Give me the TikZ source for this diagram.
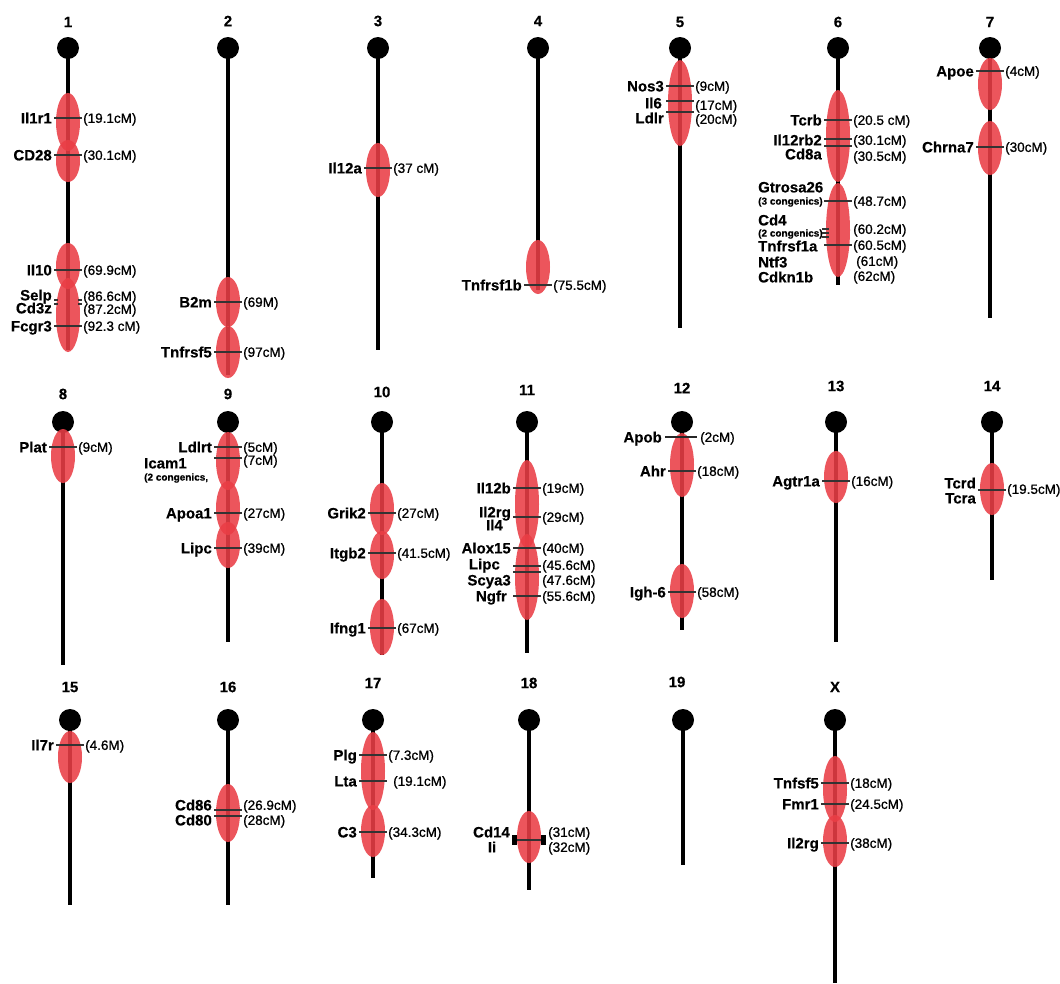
\documentclass[tikz,border=0pt]{standalone}
\usepackage{fontspec}
\setmainfont{Liberation Sans}
\newfontfamily\genfam{Liberation Sans}[UprightFont={* Bold},FakeBold=0.4]
\newfontfamily\numfam{Liberation Sans}[FakeBold=0.9]
\definecolor{chrred}{RGB}{234,62,70}
\newcount\nid
\newcommand\gfnt{\genfam\fontsize{15}{15}\selectfont}
\newcommand\nfnt{\numfam\fontsize{13.5}{13.5}\selectfont}
\newcommand\sfnt{\genfam\fontsize{10}{10}\selectfont}
\newcommand\lfnt{\genfam\fontsize{15}{15}\selectfont}
\tikzset{
  chrline/.style={line width=4.5pt,draw=black},
  ell/.style={fill=chrred,fill opacity=0.88},
  tick/.style={line width=1.3pt,draw=black!80},
  thicktick/.style={line width=2.6pt,draw=black!85},
  gene/.style={font=\gfnt,inner sep=0pt,text height=10.8pt,text depth=0pt},
  num/.style={font=\nfnt,inner sep=0pt,text height=9.7pt,text depth=0pt},
  small/.style={font=\sfnt,inner sep=0pt,text height=7.2pt,text depth=0pt},
  chrlab/.style={font=\lfnt,inner sep=0pt}
}
\newcommand\chrom[6]{%
  \draw[chrline] (#2,#3) -- (#2,#4);
  \fill[black] (#2,#3) circle (11pt);
  \node[chrlab] (c#1) at (#5,#6) {#1};}
\newcommand\el[3]{\fill[ell] (#1,#2) ellipse (12pt and #3pt);}
\newcommand\tk[2]{\draw[tick] (#1-14,#2) -- (#1+14,#2);}
\newcommand\gl[3]{\global\advance\nid by 1\relax\node[gene,anchor=east] (g\the\nid) at (#1-16,#2) {#3};}
\newcommand\glx[3]{\global\advance\nid by 1\relax\node[gene,anchor=east] (g\the\nid) at (#1,#2) {#3};}
\newcommand\gll[3]{\global\advance\nid by 1\relax\node[gene,anchor=west] (g\the\nid) at (#1,#2) {#3};}
\newcommand\nl[3]{\global\advance\nid by 1\relax\node[num,anchor=west] (n\the\nid) at (#1+15,#2) {#3};}
\newcommand\nlx[3]{\global\advance\nid by 1\relax\node[num,anchor=west] (n\the\nid) at (#1,#2) {#3};}
\newcommand\sm[3]{\global\advance\nid by 1\relax\node[small,anchor=west] (s\the\nid) at (#1,#2) {#3};}
\newcommand\ml[4]{\tk{#1}{#2}\gl{#1}{#2}{#3}\nl{#1}{#2}{#4}}
\begin{document}
\begin{tikzpicture}[x=1pt,y=-1pt]
\fill[white] (0,0) rectangle (1060,983);
\useasboundingbox (0,0) rectangle (1060,983);
% ---------- row 1 ----------
% chr 1
\chrom{1}{68}{48}{350}{68}{22}
\el{68}{122}{29}\el{68}{161}{21}\el{68}{266}{23}\el{68}{315}{37}
\ml{68}{118}{Il1r1}{(19.1cM)}
\ml{68}{155}{CD28}{(30.1cM)}
\ml{68}{270}{Il10}{(69.9cM)}
\gl{68}{295}{Selp}\nl{68}{296}{(86.6cM)}
\draw[tick] (54,300) -- (58,300); \draw[tick] (78,300) -- (82,300);
\draw[tick] (54,304) -- (58,304); \draw[tick] (78,304) -- (82,304);
\gl{68}{308}{Cd3z}\nl{68}{309}{(87.2cM)}
\ml{68}{326}{Fcgr3}{(92.3 cM)}
% chr 2
\chrom{2}{228}{48}{375}{228}{21}
\el{228}{302}{25}\el{228}{352}{26}
\ml{228}{302}{B2m}{(69M)}
\ml{228}{352}{Tnfrsf5}{(97cM)}
% chr 3
\chrom{3}{378}{48}{350}{378}{21}
\el{378}{170}{27}
\ml{378}{168}{Il12a}{(37 cM)}
% chr 4
\chrom{4}{538}{48}{290}{538}{21}
\el{538}{267}{27}
\ml{538}{285}{Tnfrsf1b}{(75.5cM)}
% chr 5
\chrom{5}{680}{48}{328}{680}{22}
\el{680}{103}{43}
\ml{680}{86}{Nos3}{(9cM)}
\tk{680}{101}\glx{662}{103}{Il6}\nl{680}{105}{(17cM)}
\tk{680}{112}\gl{680}{118}{Ldlr}\nl{680}{119}{(20cM)}
% chr 6
\chrom{6}{838}{48}{285}{838}{22}
\el{838}{136}{46}\el{838}{230}{47}
\ml{838}{120}{Tcrb}{(20.5 cM)}
\tk{838}{139}\tk{838}{146}
\gl{838}{140}{Il12rb2}\gl{838}{154}{Cd8a}
\nl{838}{140}{(30.1cM)}\nl{838}{156}{(30.5cM)}
\gll{758}{187}{Gtrosa26}\sm{758}{201}{(3 congenics)}
\tk{838}{201}\nl{838}{201}{(48.7cM)}
\gll{758}{220}{Cd4}\sm{758}{233}{(2 congenics)}
\draw[tick] (822,229) -- (829,229); \draw[tick] (822,233) -- (829,233);
\draw[tick] (822,237) -- (829,237);
\nl{838}{229}{(60.2cM)}
\gll{758}{246}{Tnfrsf1a}\tk{838}{245}\nl{838}{245}{(60.5cM)}
\gll{758}{262}{Ntf3}\nlx{856}{261}{(61cM)}
\gll{758}{277}{Cdkn1b}\nl{838}{276}{(62cM)}
% chr 7
\chrom{7}{990}{48}{318}{990}{22}
\el{990}{84}{26}\el{990}{148}{27}
\ml{990}{71}{Apoe}{(4cM)}
\ml{990}{147}{Chrna7}{(30cM)}
% ---------- row 2 ----------
% chr 8
\chrom{8}{63}{422}{665}{63}{394}
\el{63}{456}{27}
\ml{63}{447}{Plat}{(9cM)}
% chr 9
\chrom{9}{228}{422}{642}{228}{394}
\el{228}{461}{29}\el{228}{508}{27}\el{228}{545}{23}
\ml{228}{447}{Ldlrt}{(5cM)}
\tk{228}{458}\gll{144}{463}{Icam1}\nl{228}{460}{(7cM)}
\sm{144}{477}{(2 congenics,}
\ml{228}{513}{Apoa1}{(27cM)}
\ml{228}{548}{Lipc}{(39cM)}
% chr 10
\chrom{10}{382}{422}{655}{382}{392}
\el{382}{509}{26}\el{382}{555}{24}\el{382}{627}{28}
\ml{382}{513}{Grik2}{(27cM)}
\ml{382}{553}{Itgb2}{(41.5cM)}
\ml{382}{628}{Ifng1}{(67cM)}
% chr 11
\chrom{11}{527}{422}{653}{527}{390}
\el{527}{504}{44}\el{527}{577}{43}
\ml{527}{488}{Il12b}{(19cM)}
\tk{527}{517}\gl{527}{512}{Il2rg}\glx{503}{525}{Il4}\nl{527}{517}{(29cM)}
\ml{527}{548}{Alox15}{(40cM)}
\tk{527}{566}\tk{527}{572}
\glx{500}{564}{Lipc}\gl{527}{580}{Scya3}
\nl{527}{565}{(45.6cM)}\nl{527}{580}{(47.6cM)}
\tk{527}{596}\glx{507}{596}{Ngfr}\nl{527}{596}{(55.6cM)}
% chr 12
\chrom{12}{682}{422}{630}{682}{388}
\el{682}{465}{32}\el{682}{591}{27}
\draw[thicktick] (665,437) -- (697,437);
\glx{662}{437}{Apob}\nlx{700}{437}{(2cM)}
\ml{682}{471}{Ahr}{(18cM)}
\ml{682}{592}{Igh-6}{(58cM)}
% chr 13
\chrom{13}{836}{422}{642}{836}{386}
\el{836}{477}{26}
\ml{836}{481}{Agtr1a}{(16cM)}
% chr 14
\chrom{14}{992}{422}{580}{992}{386}
\el{992}{489}{26}
\tk{992}{490}\gl{992}{483}{Tcrd}\gl{992}{498}{Tcra}\nl{992}{489}{(19.5cM)}
% ---------- row 3 ----------
% chr 15
\chrom{15}{70}{720}{905}{70}{687}
\el{70}{757}{26}
\ml{70}{745}{Il7r}{(4.6M)}
% chr 16
\chrom{16}{228}{720}{905}{228}{687}
\el{228}{813}{29}
\tk{228}{810}\tk{228}{816}
\gl{228}{805}{Cd86}\gl{228}{820}{Cd80}
\nl{228}{805}{(26.9cM)}\nl{228}{820}{(28cM)}
% chr 17
\chrom{17}{373}{720}{878}{373}{683}
\el{373}{771}{39}\el{373}{831}{26}
\ml{373}{755}{Plg}{(7.3cM)}
\tk{373}{781}\gl{373}{781}{Lta}\nlx{393}{781}{(19.1cM)}
\ml{373}{832}{C3}{(34.3cM)}
% chr 18
\chrom{18}{529}{720}{890}{529}{683}
\el{529}{837}{26}
\tk{529}{840}
\fill[black] (512,835) rectangle (517,845);
\fill[black] (541,835) rectangle (546,845);
\glx{510}{832}{Cd14}
\global\advance\nid by 1\relax\node[gene] (g\the\nid) at (492,847) {Ii};
\nlx{548}{832}{(31cM)}\nlx{548}{847}{(32cM)}
% chr 19
\chrom{19}{683}{720}{865}{677}{682}
% chr X
\chrom{X}{835}{720}{983}{835}{687}
\el{835}{789}{33}\el{835}{841}{26}
\ml{835}{783}{Tnfsf5}{(18cM)}
\ml{835}{804}{Fmr1}{(24.5cM)}
\ml{835}{843}{Il2rg}{(38cM)}
\end{tikzpicture}
\end{document}
